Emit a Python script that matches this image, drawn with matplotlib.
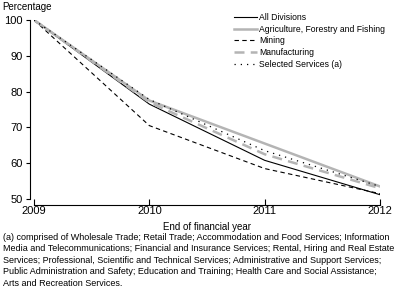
import matplotlib.pyplot as plt
from matplotlib import font_manager

years = [2009, 2010, 2011, 2012]
all_div = [100, 76.5, 60.8, 51.2]
agriculture = [100, 77.5, 65.5, 53.5]
mining = [100, 70.5, 58.5, 51.5]
manufacturing = [100, 77.0, 62.5, 53.0]
selected = [100, 77.8, 63.5, 53.5]

names = [f.name for f in font_manager.fontManager.ttflist]
fam = ['Liberation Sans Narrow'] if 'Liberation Sans Narrow' in names else ['Liberation Sans']
plt.rcParams['font.family'] = fam + ['DejaVu Sans']
plt.rcParams['font.size'] = 7

fig = plt.figure(figsize=(3.97, 3.02), dpi=100)
ax = fig.add_axes([34 / 397, 103 / 302, 346 / 397, 179 / 302])

grey = '#b4b4b4'
ax.plot(years, all_div, color='black', lw=0.8, label='All Divisions')
ax.plot(years, agriculture, color=grey, lw=1.8, label='Agriculture, Forestry and Fishing')
ax.plot(years, mining, color='black', lw=0.8, ls=(0, (4, 3)), label='Mining')
ax.plot(years, manufacturing, color=grey, lw=1.8, ls=(0, (4, 2.5)), label='Manufacturing')
ax.plot(years, selected, color='black', lw=0.9, ls=(0, (1, 4)), label='Selected Services (a)')

ax.set_xlim(2009, 2012)
ax.set_ylim(50, 100)
ax.set_xticks(years)
ax.set_yticks([50, 60, 70, 80, 90, 100])
ax.spines['top'].set_visible(False)
ax.spines['right'].set_visible(False)
ax.spines['left'].set_position(('outward', 3))
ax.spines['bottom'].set_position(('outward', 4.3))
ax.spines['left'].set_bounds(50, 100)
ax.spines['bottom'].set_bounds(2009, 2012)
for s in ('left', 'bottom'):
    ax.spines[s].set_linewidth(0.8)
ax.tick_params(axis='y', direction='out', length=3, width=0.8, pad=2, labelsize=8)
ax.tick_params(axis='x', direction='in', length=4, width=0.8, pad=0.5, labelsize=8)

fig.text(2 / 397, 1 - 7 / 302, 'Percentage', fontsize=7, va='center', ha='left')
fig.text(207 / 397, 1 - 227 / 302, 'End of financial year', fontsize=7, va='center', ha='center')

ax.legend(loc='upper left', bbox_to_anchor=(230 / 397, 1 - 9 / 302),
          bbox_transform=fig.transFigure, frameon=False, fontsize=6.2,
          handlelength=2.6, handletextpad=0.3, labelspacing=0.3, borderpad=0)

note = ("(a) comprised of Wholesale Trade; Retail Trade; Accommodation and Food Services; Information\n"
        "Media and Telecommunications; Financial and Insurance Services; Rental, Hiring and Real Estate\n"
        "Services; Professional, Scientific and Technical Services; Administrative and Support Services;\n"
        "Public Administration and Safety; Education and Training; Health Care and Social Assistance;\n"
        "Arts and Recreation Services.")
fig.text(3 / 397, 1 - 233 / 302, note, fontsize=6.5, va='top', ha='left', linespacing=1.35)

fig.savefig('out.png', dpi=100)
